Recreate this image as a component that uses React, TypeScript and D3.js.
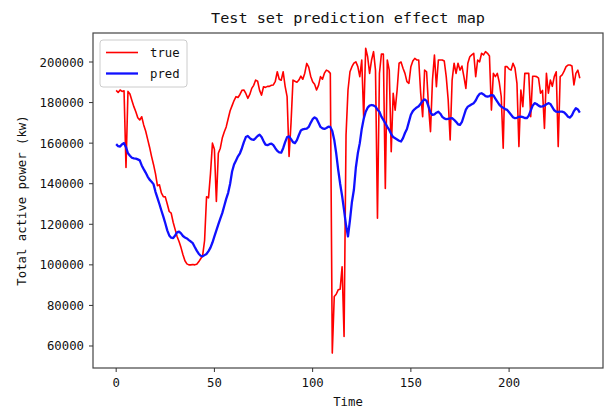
import React from "react";
import * as d3 from "d3";

// Observed load ("true") and model output ("pred") for each time step of the test set
const trueValues: number[] = [
  186000, 185000, 186200, 185500, 185800, 148000, 185500, 184200, 181000, 178000,
  175500, 172500, 171400, 173000, 169000, 166000, 162000, 158000, 153500, 149500,
  145000, 139000, 139500, 135500, 133600, 133500, 130000, 126300, 125500, 121000,
  117500, 114000, 111500, 108500, 105000, 102000, 100500, 100000, 100000, 100200,
  100000, 100300, 101500, 103000, 104500, 112000, 133600, 133000, 145000, 160000,
  157000, 131200, 155000, 157500, 162500, 165500, 168000, 172000, 176000, 178500,
  181000, 182900, 182500, 184000, 186000, 186200, 184500, 182100, 184000, 187000,
  188500, 191100, 190500, 186000, 183700, 187800, 187500, 188000, 188000, 188500,
  188700, 190500, 195200, 191500, 191000, 195200, 188000, 182900, 153400, 170000,
  191100, 190500, 190000, 191100, 193000, 191500, 194500, 199300, 197500, 193000,
  190300, 189000, 186200, 188500, 192800, 191500, 194500, 196000, 195500, 194400,
  56500, 84400, 85500, 87700, 88000, 99100, 64700, 164000, 186200, 195200,
  197700, 199400, 200100, 197700, 192800, 201000, 172300, 206800, 202600, 194400,
  201000, 205100, 196000, 123000, 194400, 203900, 203900, 137700, 201000, 196000,
  155800, 184600, 176300, 186200, 199400, 200000, 196900, 194400, 190300, 189500,
  197700, 200500, 201800, 201000, 201000, 184600, 173000, 196000, 195200, 178000,
  165700, 191100, 203400, 187800, 201000, 201000, 201000, 200500, 192800, 181300,
  161600, 191100, 199400, 194400, 199400, 196000, 198000, 192800, 187000, 199400,
  202600, 203500, 204300, 192800, 201000, 200100, 204300, 203500, 205100, 204300,
  203000, 176300, 194400, 192800, 194400, 190000, 183000, 157500, 197700, 197700,
  196500, 196000, 199400, 197000, 189500, 158300, 186200, 178000, 194400, 194400,
  194400, 173000, 193000, 193000, 192800, 192000, 184600, 186000, 167300, 194400,
  184600, 191100, 188000, 192800, 195200, 158300, 192800, 193600, 195500, 197700,
  198500, 198500, 198000, 188700, 194400, 196000, 192000,
];

const predValues: number[] = [
  159500, 158500, 158300, 159500, 160000, 158000, 155000, 153800, 152800, 152500,
  152400, 152000, 151500, 149000, 147200, 145500, 143500, 142000, 141000, 139800,
  136000, 133000, 130000, 126800, 123800, 120500, 117000, 114500, 113400, 113200,
  114500, 116000, 116400, 115500, 114200, 113500, 113000, 112200, 111500, 110700,
  108800, 107000, 105500, 104500, 104200, 104800, 105400, 106800, 108500, 111000,
  114000, 117000, 120000, 122800, 125500, 129000, 132500, 135500, 140000, 146000,
  149500, 151500, 153500, 155000, 157500, 160500, 163000, 163500, 162500, 161800,
  161600, 162500, 163500, 164200, 163000, 161000, 159300, 159000, 159500, 159800,
  159000, 157500, 156200, 155400, 155300, 157500, 160500, 163000, 163300, 162000,
  160500, 160000, 161500, 164000, 166200, 166800, 167000, 167200, 168000, 170000,
  171800, 172700, 172000, 170000, 168000, 167300, 167000, 167500, 168100, 168000,
  166000, 161600, 155000, 147000, 140000, 134000, 127000, 119500, 114000, 122000,
  131000, 137000, 148000, 155000, 160000, 167000, 172000, 175500, 177500, 178500,
  178800, 178600, 178000, 176500, 175500, 173100, 171500, 169800, 168000, 166500,
  164500, 163000, 162400, 161800, 161200, 160800, 162500, 165000, 167000, 170500,
  174000, 175800, 176800, 177600, 178200, 179500, 180800, 181600, 180800, 178000,
  175000, 173900, 174200, 175000, 175500, 174500, 173000, 172200, 171800, 172000,
  172200, 172300, 171500, 170500, 169300, 169000, 170500, 173500, 176500, 178000,
  178600, 179200, 179700, 181000, 183000, 184300, 184600, 184000, 183200, 182900,
  183200, 183700, 183500, 182000, 180500, 179000, 178000, 177400, 176800, 176400,
  175200, 174000, 172800, 172300, 172500, 173000, 173100, 172800, 172400, 172300,
  173500, 176000, 178500, 179700, 179300, 178500, 178000, 178100, 178500, 179200,
  179700, 179300, 177800, 176200, 175500, 175400, 175500, 175500, 175200, 174200,
  173000, 172600, 173800, 175800, 177200, 176600, 175100,
];

const xTickValues: number[] = [0, 50, 100, 150, 200];
const yTickValues: number[] = [60000, 80000, 100000, 120000, 140000, 160000, 180000, 200000];

const chartTitle = "Test set prediction effect map";
const xLabel = "Time";
const yLabel = "Total active power (kw)";
const legendLabels = ["true", "pred"];

const WIDTH = 608;
const HEIGHT = 411;
const frame = { left: 93, right: 603, top: 33, bottom: 368 };
const FONT = "'DejaVu Sans Mono', monospace";

export default function App() {
  const x = d3.scaleLinear().domain([-11.8, 247.8]).range([frame.left, frame.right]);
  const y = d3.scaleLinear().domain([49150, 214300]).range([frame.bottom, frame.top]);

  const line = d3
    .line<number>()
    .x((_, i) => x(i))
    .y((v) => y(v));

  return (
    <svg
      width={WIDTH}
      height={HEIGHT}
      style={{ position: "absolute", left: 0, top: 0, background: "#fff" }}
      fontFamily={FONT}
    >
      <rect x={0} y={0} width={WIDTH} height={HEIGHT} fill="#fff" />
      <defs>
        <clipPath id="plot-area">
          <rect
            x={frame.left}
            y={frame.top}
            width={frame.right - frame.left}
            height={frame.bottom - frame.top}
          />
        </clipPath>
      </defs>

      <text
        x={(frame.left + frame.right) / 2}
        y={23}
        textAnchor="middle"
        fontSize={14.5}
        fill="#111"
        textLength={274}
        lengthAdjust="spacingAndGlyphs"
      >
        {chartTitle}
      </text>

      <g clipPath="url(#plot-area)">
        <path d={line(trueValues) ?? ""} fill="none" stroke="#ff0000" strokeWidth={1.6} strokeLinejoin="round" />
        <path d={line(predValues) ?? ""} fill="none" stroke="#1010ff" strokeWidth={2.3} strokeLinejoin="round" />
      </g>

      <rect
        x={frame.left}
        y={frame.top}
        width={frame.right - frame.left}
        height={frame.bottom - frame.top}
        fill="none"
        stroke="#444"
        strokeWidth={1.2}
      />

      {yTickValues.map((v) => (
        <g key={`y${v}`}>
          <line x1={frame.left - 4} x2={frame.left} y1={y(v)} y2={y(v)} stroke="#333" strokeWidth={1} />
          <text x={frame.left - 9} y={y(v) + 4.5} textAnchor="end" fontSize={12.3} fill="#111">
            {v}
          </text>
        </g>
      ))}

      {xTickValues.map((v) => (
        <g key={`x${v}`}>
          <line x1={x(v)} x2={x(v)} y1={frame.bottom} y2={frame.bottom + 4} stroke="#333" strokeWidth={1} />
          <text x={x(v)} y={frame.bottom + 19} textAnchor="middle" fontSize={12.3} fill="#111">
            {v}
          </text>
        </g>
      ))}

      <text
        x={(frame.left + frame.right) / 2}
        y={frame.bottom + 38}
        textAnchor="middle"
        fontSize={12.3}
        fill="#111"
      >
        {xLabel}
      </text>

      <text
        transform={`translate(26, ${(frame.top + frame.bottom) / 2}) rotate(-90)`}
        textAnchor="middle"
        fontSize={12.3}
        fill="#111"
      >
        {yLabel}
      </text>

      <g>
        <rect x={100} y={40} width={87} height={47} rx={3} fill="#fff" stroke="#ccc" strokeWidth={1} />
        <line x1={106} x2={138} y1={52.5} y2={52.5} stroke="#ff0000" strokeWidth={1.6} />
        <text x={150} y={57} fontSize={12.3} fill="#111">
          {legendLabels[0]}
        </text>
        <line x1={106} x2={138} y1={73.5} y2={73.5} stroke="#1010ff" strokeWidth={2.3} />
        <text x={150} y={78} fontSize={12.3} fill="#111">
          {legendLabels[1]}
        </text>
      </g>
    </svg>
  );
}
